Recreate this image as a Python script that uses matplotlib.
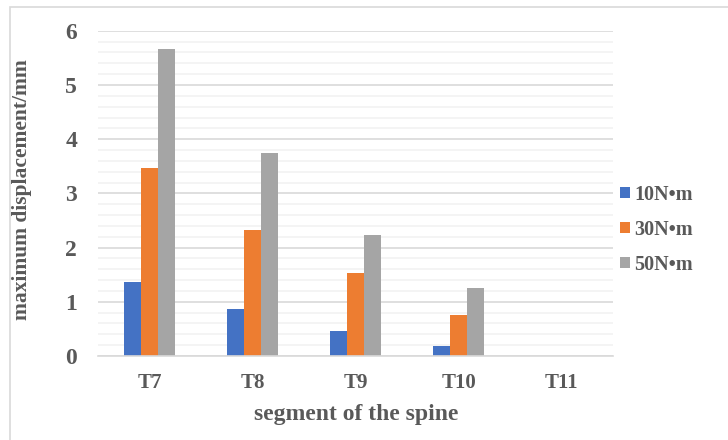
import numpy as np
import matplotlib.pyplot as plt
from matplotlib.patches import Rectangle

# data
segments = ['T7', 'T8', 'T9', 'T10', 'T11']
torque_10 = [1.37, 0.87, 0.46, 0.18, 0.0]
torque_30 = [3.47, 2.32, 1.53, 0.76, 0.0]
torque_50 = [5.67, 3.75, 2.23, 1.26, 0.0]
series_names = ['10N•m', '30N•m', '50N•m']
colors = ['#4472C4', '#ED7D31', '#A5A5A5']

plt.rcParams['font.family'] = ['Liberation Serif', 'DejaVu Serif']
plt.rcParams['font.weight'] = 'bold'
text_color = '#595959'

fig = plt.figure(figsize=(7.28, 4.40), dpi=100)
ax = fig.add_axes([0.1346, 0.191, 0.708, 0.739])

# light border around the chart area
fig.patches.append(Rectangle((10 / 728, -0.05), 1.2, 1 - 7 / 440 + 0.05,
                             transform=fig.transFigure, fill=False,
                             edgecolor='#D9D9D9', linewidth=1.2))

x = np.arange(len(segments))
w = 0.165
for i, (vals, name) in enumerate(zip([torque_10, torque_30, torque_50], series_names)):
    ax.bar(x + (i - 1) * w, vals, width=w, color=colors[i], label=name, zorder=3)

ax.set_xlim(-0.5, len(segments) - 0.5)
ax.set_ylim(0, 6)
ax.set_yticks(np.arange(0, 7, 1))
ax.set_yticks(np.arange(0, 6.01, 0.2), minor=True)
ax.grid(axis='y', which='major', color='#D9D9D9', linewidth=1.2, zorder=0)
ax.grid(axis='y', which='minor', color='#F2F2F2', linewidth=1.2, zorder=0)

ax.set_xticks(x)
ax.set_xticklabels(segments, fontsize=15, color=text_color, fontweight='bold')
for lab in ax.get_yticklabels():
    lab.set_fontsize(17)
    lab.set_color(text_color)
    lab.set_fontweight('bold')
ax.tick_params(axis='both', which='both', length=0)
ax.tick_params(axis='x', pad=12)
ax.tick_params(axis='y', pad=15)

for s in ['top', 'right', 'left']:
    ax.spines[s].set_visible(False)
ax.spines['bottom'].set_color('#D9D9D9')
ax.spines['bottom'].set_linewidth(1.2)
ax.spines['bottom'].set_zorder(4)

ax.set_xlabel('segment of the spine', fontsize=17, color=text_color,
              fontweight='bold', labelpad=8)
fig.text(22 / 728, 1 - 190 / 440, 'maximum displacement/mm', rotation=90,
         fontsize=15.5, color=text_color, fontweight='bold', ha='center', va='center')

leg = ax.legend(loc='center left', bbox_to_anchor=(0.978, 0.388), frameon=False,
                fontsize=14.5, handlelength=0.5, handleheight=0.5,
                handletextpad=0.2, labelspacing=0.75, labelcolor=text_color)
for t in leg.get_texts():
    t.set_fontweight('bold')

fig.savefig('out.png', dpi=100)
